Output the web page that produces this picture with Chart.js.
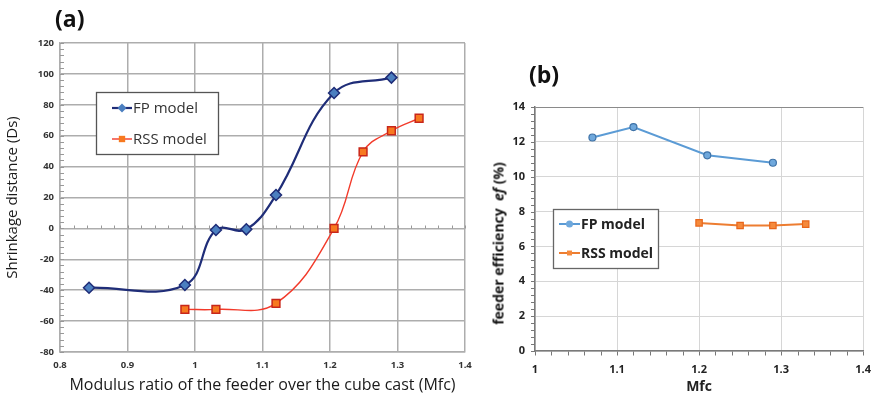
<!DOCTYPE html>
<html lang="en">
<head>
<meta charset="UTF-8"/>
<title>Shrinkage distance and feeder efficiency vs Mfc</title>
<script src="https://cdn.jsdelivr.net/npm/chart.js@4.4.7/dist/chart.umd.min.js"></script>
<style>
*{box-sizing:border-box;margin:0;padding:0}
body{width:883px;height:399px;background:#fff;font-family:'Open Sans',Arial,sans-serif;position:relative;overflow:hidden}
.wrap{position:absolute;top:0}
#wa{left:0;width:480px;height:399px}
#wb{left:480px;width:403px;height:399px}
.tag{position:absolute;font-weight:700;font-size:23px;color:#111}
.ytitle{position:absolute;transform:rotate(-90deg);transform-origin:center center;white-space:nowrap;font-weight:700;font-size:14px;color:#111;text-align:center}
</style>
</head>
<body>
<div class="wrap" id="wa"><canvas id="chartA"></canvas></div>
<div class="wrap" id="wb"><canvas id="chartB"></canvas></div>
<div class="tag" style="left:55px;top:2px">(a)</div>
<div class="tag" style="left:529px;top:58px">(b)</div>
<div class="ytitle" style="left:398px;top:234px;width:200px">feeder efficiency&nbsp; <i>ef</i> (%)</div>

<script>
// ---- panel (a): shrinkage distance vs modulus ratio
const fpMfcA  = [0.843, 0.985, 1.031, 1.076, 1.12, 1.206, 1.291];
const fpDs    = [-38.4, -36.6, -1, -0.6, 21.6, 87.6, 97.6];
const rssMfcA = [0.985, 1.031, 1.12, 1.206, 1.249, 1.291, 1.332];
const rssDs   = [-52.4, -52.4, -48.5, 0, 49.6, 63.2, 71.3];

// ---- panel (b): feeder efficiency vs Mfc
const fpMfcB  = [1.07, 1.12, 1.21, 1.29];
const fpEf    = [12.25, 12.85, 11.23, 10.8];
const rssMfcB = [1.2, 1.25, 1.29, 1.33];
const rssEf   = [7.35, 7.2, 7.2, 7.28];

const pts = (xs, ys) => xs.map((x, i) => ({ x, y: ys[i] }));

// boxed legend drawn inside the plot area
function boxLegend(opts) {
  return {
    id: 'boxLegend' + opts.key,
    afterDraw(chart) {
      const ctx = chart.ctx;
      const { x, y, w, h } = opts.box;
      ctx.save();
      ctx.fillStyle = '#fff';
      ctx.fillRect(x, y, w, h);
      ctx.strokeStyle = opts.boxColor;
      ctx.lineWidth = 1.3;
      ctx.strokeRect(x + 0.5, y + 0.5, w, h);
      chart.data.datasets.forEach((ds, i) => {
        const ly = opts.rows[i];
        ctx.strokeStyle = ds.borderColor;
        ctx.lineWidth = ds.borderWidth;
        ctx.beginPath();
        ctx.moveTo(opts.lx0, ly);
        ctx.lineTo(opts.lx1, ly);
        ctx.stroke();
        const cx = (opts.lx0 + opts.lx1) / 2;
        ctx.fillStyle = ds.pointBackgroundColor;
        ctx.strokeStyle = ds.pointBorderColor;
        ctx.lineWidth = ds.pointBorderWidth;
        Chart.helpers.drawPoint(ctx, { pointStyle: ds.pointStyle, rotation: 0, radius: opts.markerR }, cx, ly);
        ctx.fillStyle = opts.textColor;
        ctx.font = opts.font;
        ctx.textBaseline = 'middle';
        ctx.fillText(ds.label, opts.lx1 + 1, ly + 1);
      });
      ctx.restore();
    }
  };
}

// small minor tick marks on the value axis and along the category axis line
function minorTicks(opts) {
  return {
    id: 'minorTicks' + opts.key,
    beforeDatasetsDraw(chart) {
      const ctx = chart.ctx;
      const xs = chart.scales.x, ys = chart.scales.y;
      const a = chart.chartArea;
      ctx.save();
      ctx.strokeStyle = opts.color;
      ctx.lineWidth = 1;
      ctx.beginPath();
      for (let v = ys.min; v <= ys.max + 1e-9; v += opts.yStep) {
        const py = Math.round(ys.getPixelForValue(v)) + 0.5;
        ctx.moveTo(a.left + opts.yDir[0], py);
        ctx.lineTo(a.left + opts.yDir[1], py);
      }
      const baseY = Math.round(ys.getPixelForValue(opts.xAxisAt)) + 0.5;
      for (let v = xs.min; v <= xs.max + 1e-9; v += opts.xStep) {
        const px = Math.round(xs.getPixelForValue(v)) + 0.5;
        ctx.moveTo(px, baseY + opts.xDir[0]);
        ctx.lineTo(px, baseY + opts.xDir[1]);
      }
      ctx.stroke();
      ctx.restore();
    }
  };
}

Chart.defaults.font.family = "'Open Sans', Arial, sans-serif";
Chart.defaults.animation = false;

new Chart(document.getElementById('chartA'), {
  type: 'scatter',
  data: {
    datasets: [
      { label: 'FP model', data: pts(fpMfcA, fpDs), showLine: true, tension: 0.4,
        borderColor: '#1f2d78', borderWidth: 2.2, pointStyle: 'rectRot', pointRadius: 5.5,
        pointBackgroundColor: '#4b7fc0', pointBorderColor: '#1f2d78', pointBorderWidth: 1.5 },
      { label: 'RSS model', data: pts(rssMfcA, rssDs), showLine: true, tension: 0.4,
        borderColor: '#f23a2a', borderWidth: 1.4, pointStyle: 'rect', pointRadius: 5.5,
        pointBackgroundColor: '#f7791f', pointBorderColor: '#c8261a', pointBorderWidth: 1.5 }
    ]
  },
  options: {
    responsive: true, maintainAspectRatio: false,
    layout: { padding: { top: 43, right: 15, left: 0, bottom: 0 } },
    plugins: { legend: { display: false }, tooltip: { enabled: false } },
    scales: {
      x: {
        type: 'linear', min: 0.8, max: 1.4,
        ticks: { stepSize: 0.1, color: '#333', font: { size: 9.5, weight: 'bold' }, padding: 8,
                 callback: v => Math.abs(v - 1) < 1e-9 ? '1' : v.toFixed(1) },
        grid: { color: '#adadad', lineWidth: 1.5, drawTicks: false },
        border: { color: '#adadad', width: 1.5 },
        title: { display: true, text: 'Modulus ratio of the feeder over the cube cast (Mfc)', color: '#1a1a1a',
                 font: { size: 16 }, padding: { top: 8 } },
        afterFit: s => { s.height = 47; }
      },
      y: {
        min: -80, max: 120,
        ticks: { stepSize: 20, color: '#333', font: { size: 9.5, weight: 'bold' }, padding: 6 },
        grid: { color: '#adadad', lineWidth: 1.5, drawTicks: false },
        border: { color: '#adadad', width: 1.5 },
        title: { display: true, text: 'Shrinkage distance (Ds)', color: '#1a1a1a', font: { size: 15 }, padding: { bottom: 5 } },
        afterFit: s => { s.width = 60; }
      }
    }
  },
  plugins: [
    minorTicks({ key: 'a', color: '#999', yStep: 4, yDir: [0, 4], xStep: 0.02, xAxisAt: 0, xDir: [-3, 0] }),
    boxLegend({ key: 'a', box: { x: 96, y: 92, w: 122, h: 62 }, boxColor: '#555', rows: [108, 139], markerR: 4.5,
                lx0: 112, lx1: 132, textColor: '#333', font: "15px 'Open Sans', Arial, sans-serif" })
  ]
});

new Chart(document.getElementById('chartB'), {
  type: 'scatter',
  data: {
    datasets: [
      { label: 'FP model', data: pts(fpMfcB, fpEf), showLine: true, tension: 0,
        borderColor: '#5b9bd5', borderWidth: 2, pointStyle: 'circle', pointRadius: 3.5,
        pointBackgroundColor: '#6fa8dc', pointBorderColor: '#3f73a8', pointBorderWidth: 1.2 },
      { label: 'RSS model', data: pts(rssMfcB, rssEf), showLine: true, tension: 0,
        borderColor: '#ed7d31', borderWidth: 2, pointStyle: 'rect', pointRadius: 4.5,
        pointBackgroundColor: '#f58a3c', pointBorderColor: '#e8651a', pointBorderWidth: 1.2 }
    ]
  },
  options: {
    responsive: true, maintainAspectRatio: false,
    layout: { padding: { top: 107, right: 13, left: 0, bottom: 0 } },
    plugins: { legend: { display: false }, tooltip: { enabled: false } },
    scales: {
      x: {
        type: 'linear', min: 1, max: 1.4,
        ticks: { stepSize: 0.1, color: '#222', font: { size: 11, weight: 'bold' }, padding: 12,
                 callback: v => Math.abs(v - 1) < 1e-9 ? '1' : v.toFixed(1) },
        grid: { color: '#d6d6d6', lineWidth: 1, drawTicks: false },
        border: { color: '#7a7a7a', width: 1.5 },
        title: { display: true, text: 'Mfc', color: '#222', font: { size: 14, weight: 'bold' }, padding: { top: 3 } },
        afterFit: s => { s.height = 48; }
      },
      y: {
        min: 0, max: 14,
        ticks: { stepSize: 2, color: '#222', font: { size: 11, weight: 'bold' }, padding: 10 },
        grid: { color: c => (c.tick && c.tick.value === 14) ? '#8a8a8a' : '#d6d6d6', lineWidth: 1, drawTicks: false },
        border: { color: '#7a7a7a', width: 1.5 },
        afterFit: s => { s.width = 55; }
      }
    }
  },
  plugins: [
    minorTicks({ key: 'b', color: '#777', yStep: 0.4, yDir: [-4, 0], xStep: 0.02, xAxisAt: 0, xDir: [0, 4] }),
    boxLegend({ key: 'b', box: { x: 73, y: 209, w: 105, h: 59 }, boxColor: '#666', rows: [224, 253], markerR: 3.5,
                lx0: 79, lx1: 100, textColor: '#222', font: "bold 14px 'Open Sans', Arial, sans-serif" })
  ]
});
</script>
</body>
</html>
